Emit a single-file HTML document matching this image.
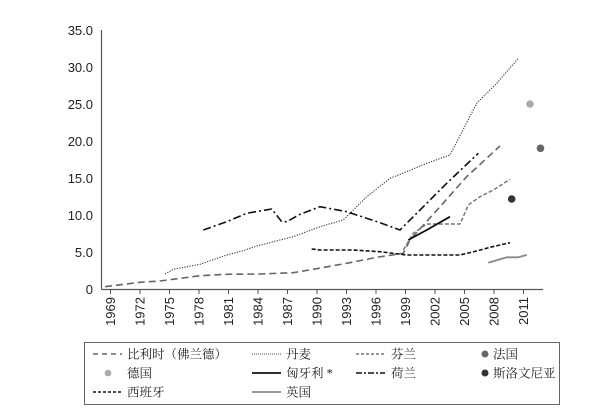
<!DOCTYPE html>
<html><head><meta charset="utf-8"><style>
body{margin:0;background:#fff;}
svg{display:block;font-family:"Liberation Sans","Noto Sans CJK SC",sans-serif;}
</style></head><body>
<svg width="605" height="417" viewBox="0 0 605 417" xmlns="http://www.w3.org/2000/svg">
<g stroke="#555" stroke-width="1.2" fill="none">
<line x1="101.5" y1="30" x2="101.5" y2="289.5"/>
<line x1="101.5" y1="289.5" x2="543" y2="289.5"/>
</g>
<g font-size="13" fill="#222" text-anchor="end">
<text x="93" y="294">0</text>
<text x="93" y="257">5.0</text>
<text x="93" y="220">10.0</text>
<text x="93" y="183">15.0</text>
<text x="93" y="146">20.0</text>
<text x="93" y="109">25.0</text>
<text x="93" y="72">30.0</text>
<text x="93" y="35">35.0</text>
</g>
<g stroke="#555" stroke-width="1">
<line x1="110.5" y1="289" x2="110.5" y2="294"/><line x1="140" y1="289" x2="140" y2="294"/><line x1="169.5" y1="289" x2="169.5" y2="294"/><line x1="199" y1="289" x2="199" y2="294"/><line x1="228.5" y1="289" x2="228.5" y2="294"/><line x1="258" y1="289" x2="258" y2="294"/><line x1="287.5" y1="289" x2="287.5" y2="294"/><line x1="317" y1="289" x2="317" y2="294"/><line x1="346.5" y1="289" x2="346.5" y2="294"/><line x1="376" y1="289" x2="376" y2="294"/><line x1="405.5" y1="289" x2="405.5" y2="294"/><line x1="435" y1="289" x2="435" y2="294"/><line x1="464.5" y1="289" x2="464.5" y2="294"/><line x1="494" y1="289" x2="494" y2="294"/><line x1="523.5" y1="289" x2="523.5" y2="294"/>
</g>
<g font-size="13" fill="#222" text-anchor="end">
<text transform="translate(115,297) rotate(-90)">1969</text>
<text transform="translate(144.5,297) rotate(-90)">1972</text>
<text transform="translate(174,297) rotate(-90)">1975</text>
<text transform="translate(203.5,297) rotate(-90)">1978</text>
<text transform="translate(233,297) rotate(-90)">1981</text>
<text transform="translate(262.5,297) rotate(-90)">1984</text>
<text transform="translate(292,297) rotate(-90)">1987</text>
<text transform="translate(321.5,297) rotate(-90)">1990</text>
<text transform="translate(351,297) rotate(-90)">1993</text>
<text transform="translate(380.5,297) rotate(-90)">1996</text>
<text transform="translate(410,297) rotate(-90)">1999</text>
<text transform="translate(439.5,297) rotate(-90)">2002</text>
<text transform="translate(469,297) rotate(-90)">2005</text>
<text transform="translate(498.5,297) rotate(-90)">2008</text>
<text transform="translate(528,297) rotate(-90)">2011</text>
</g>
<g fill="none" stroke-linejoin="round">
<polyline stroke="#666" stroke-width="1.6" stroke-dasharray="7,4" points="105,286.7 140,282.3 160,281 200,275.7 226.7,274.3 260,274 293.3,272.7 313.3,269.3 346.7,263.3 376.7,257.3 403.3,253.3 410,240 440,206.7 466.7,176.7 500,146"/>
<polyline stroke="#444" stroke-width="1.2" stroke-dasharray="1.2,1.4" points="165,274 173.3,269.3 200,264.3 226.7,255 243.3,250.7 256.7,246 273.3,241.7 293.3,236.7 320,226.7 343.3,220 353.3,210 366.7,196.7 390,178.3 406.7,171.7 426.7,163.3 450,155 476.7,103.3 496.7,83.3 518.3,58.3"/>
<polyline stroke="#777" stroke-width="1.5" stroke-dasharray="4,2" points="403.3,250 413.3,233.3 426.7,224 460,224 468.3,205 480,196.7 493.3,190 510,179.3"/>
<polyline stroke="#111" stroke-width="1.8" points="408.3,240 426.7,230 450,216.7"/>
<polyline stroke="#111" stroke-width="1.6" stroke-dasharray="8,3,2,3" points="203.3,230 226.7,221.7 246.7,213.3 271.7,209 281.7,221.7 286.7,221.7 300,214.3 320,206.7 346.7,211.7 380,222.7 400,230 436.7,193.3 446.7,183.3 478.3,153.3"/>
<polyline stroke="#111" stroke-width="1.6" stroke-dasharray="4,2" points="311.7,249 320,250 353.3,250 380,251.7 406.7,255 460,255 476.7,251 490,247.3 510,242.7"/>
<polyline stroke="#888" stroke-width="1.8" points="488.3,262.7 500,259.3 506.7,257.3 518.3,257.3 526.7,255"/>
</g>
<circle cx="530" cy="104" r="3.8" fill="#aaa"/>
<circle cx="540.5" cy="148.3" r="3.8" fill="#666"/>
<circle cx="511.7" cy="199" r="3.8" fill="#333"/>
<rect x="84.5" y="342.5" width="475" height="62" fill="none" stroke="#666" stroke-width="1"/>
<g font-size="12.5" fill="#222" font-family="'Liberation Serif','Noto Serif CJK SC',serif">
<line x1="93" y1="354" x2="122" y2="354" stroke="#666" stroke-width="1.5" stroke-dasharray="5,4"/>
<text x="127" y="358.5">比利时（佛兰德）</text>
<line x1="252" y1="354" x2="281" y2="354" stroke="#444" stroke-width="1" stroke-dasharray="1,1"/>
<text x="286" y="358.5">丹麦</text>
<line x1="356" y1="354" x2="385" y2="354" stroke="#777" stroke-width="1.5" stroke-dasharray="3,2"/>
<text x="391" y="358.5">芬兰</text>
<circle cx="485" cy="354" r="3.5" fill="#666"/>
<text x="493" y="358.5">法国</text>
<circle cx="108" cy="373" r="3.3" fill="#aaa"/>
<text x="127" y="377.5">德国</text>
<line x1="252" y1="373" x2="281" y2="373" stroke="#111" stroke-width="1.8"/>
<text x="286" y="377.5">匈牙利 *</text>
<line x1="356" y1="373" x2="385" y2="373" stroke="#111" stroke-width="1.6" stroke-dasharray="6,2,2,2"/>
<text x="391" y="377.5">荷兰</text>
<circle cx="485" cy="373" r="3.5" fill="#333"/>
<text x="493" y="377.5">斯洛文尼亚</text>
<line x1="93" y1="392" x2="122" y2="392" stroke="#111" stroke-width="1.5" stroke-dasharray="3,2"/>
<text x="127" y="396.5">西班牙</text>
<line x1="252" y1="392" x2="281" y2="392" stroke="#888" stroke-width="1.8"/>
<text x="286" y="396.5">英国</text>
</g>
</svg>
</body></html>
